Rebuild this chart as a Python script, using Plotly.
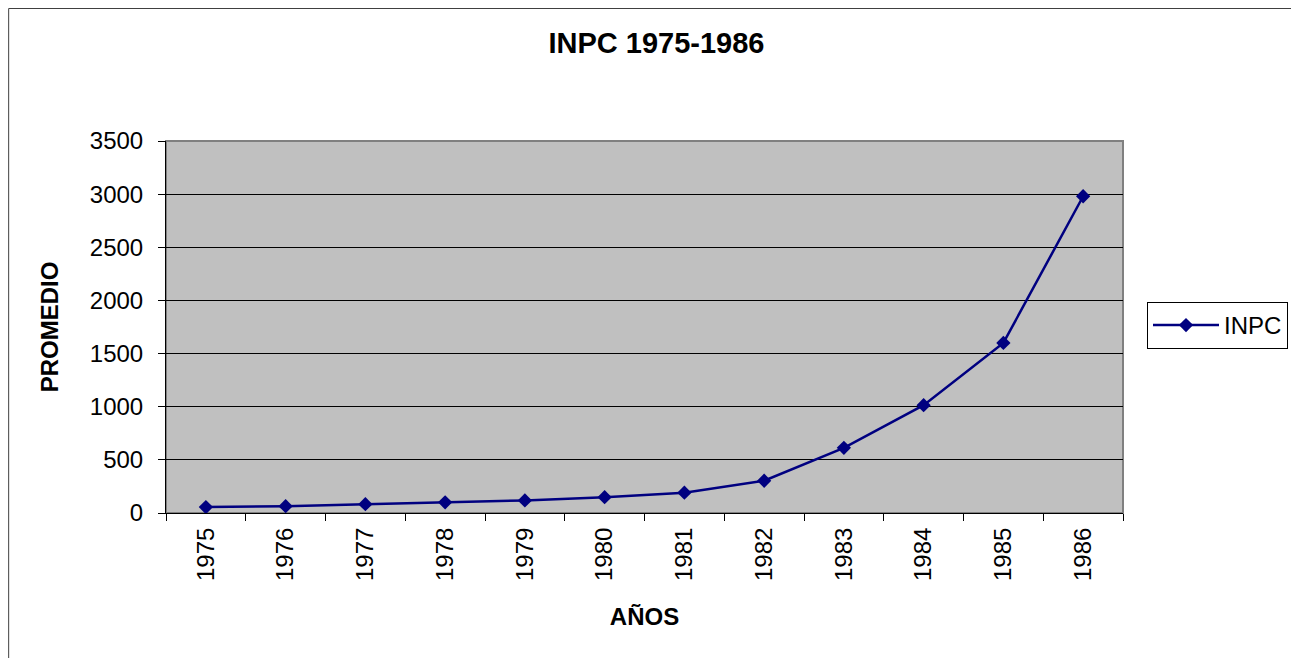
import plotly.graph_objects as go

years = ["1975", "1976", "1977", "1978", "1979", "1980",
         "1981", "1982", "1983", "1984", "1985", "1986"]
inpc = [55.6, 64.6, 83.5, 100.0, 118.2, 149.3,
        191.1, 303.6, 612.9, 1014.5, 1600.3, 2980.2]
y_ticks = [0, 500, 1000, 1500, 2000, 2500, 3000, 3500]

# the page body has an 8px margin, so work in page pixels and shift
OFF = 8
W, H = 1299 - OFF, 666 - 2 * OFF
L, R, T, B = 166, 1124, 141, 513


def px_x(p):
    return (p - L) / (R - L)


def px_y(p):
    return (B - p) / (B - T)


fig = go.Figure()
fig.add_trace(go.Scatter(
    x=years, y=inpc, mode='lines+markers', name='INPC',
    line=dict(color='#000080', width=2.5),
    marker=dict(symbol='diamond', size=11, color='#000080'),
))

font = "Liberation Sans, Arial, sans-serif"
fig.update_layout(
    width=W, height=H,
    margin=dict(l=L - OFF, r=W + OFF - R, t=T - OFF, b=H + OFF - B),
    paper_bgcolor='white', plot_bgcolor='#C0C0C0',
    font=dict(family=font, size=24, color='black'),
    title=dict(text='<b>INPC 1975-1986</b>', x=px_x(657), xref='paper',
               xanchor='center', y=1 - (43 - OFF) / H, yanchor='middle',
               font=dict(size=29)),
    showlegend=True,
    legend=dict(x=px_x(1147), y=px_y(302), xanchor='left', yanchor='top',
                bordercolor='black', borderwidth=1, bgcolor='white',
                font=dict(size=24), itemwidth=66),
    xaxis=dict(type='category', range=[-0.5, len(years) - 0.5],
               tickson='boundaries', ticks='outside',
               ticklen=7, tickcolor='black', tickangle=-90,
               showline=True, linecolor='black', linewidth=1,
               showgrid=False, tickfont=dict(size=24), ticklabelstandoff=4,
               title=dict(text='<b>AÑOS</b>', standoff=28, font=dict(size=24))),
    yaxis=dict(range=[0, 3500], tickvals=y_ticks, ticks='outside', ticklen=7,
               tickcolor='black', showline=True, linecolor='black', linewidth=1,
               showgrid=True, gridcolor='black', gridwidth=1, zeroline=False,
               tickfont=dict(size=24), ticklabelstandoff=10,
               title=dict(text='<b>PROMEDIO</b>', standoff=24, font=dict(size=24))),
)

# plot area border (gray)
fig.add_shape(type='rect', xref='paper', yref='paper', x0=0, x1=1, y0=0, y1=1,
              line=dict(color='#808080', width=2), layer='below')
# outer chart border: left, top and right edges (bottom edge is cropped)
x0, x1, y0, y1 = px_x(8.5), px_x(1297.5), px_y(H + OFF), px_y(8.5)
fig.add_shape(type='path', xref='paper', yref='paper',
              path=f'M {x0},{y0} L {x0},{y1} L {x1},{y1} L {x1},{y0}',
              line=dict(color='#404040', width=1))

fig.write_html("out.html")
